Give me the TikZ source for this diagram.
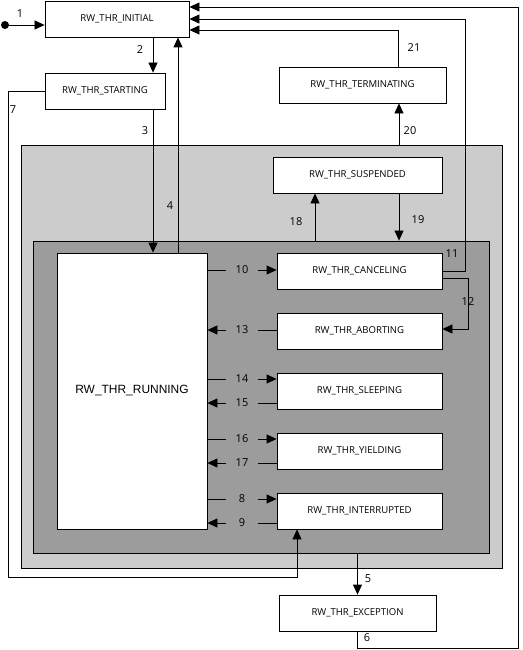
\documentclass[tikz,border=0pt]{standalone}
\usepackage{fontspec}
\setsansfont{Open Sans}
\newfontfamily\runfont{Liberation Sans}
\usetikzlibrary{arrows.meta,calc}
\definecolor{ink}{RGB}{0,0,0}
\definecolor{outerfill}{RGB}{204,204,204}
\definecolor{innerfill}{RGB}{156,156,156}

\begin{document}
\begin{tikzpicture}[x=1bp, y=-1bp,
  font=\sffamily\fontsize{9.6}{11}\selectfont, >={Triangle[length=10bp,width=9bp]},
  state/.style={draw=ink, fill=white, line width=0.8bp, inner sep=0pt, minimum height=36bp},
  region/.style={draw=ink, line width=0.8bp, inner sep=0pt},
  flow/.style={->, line width=0.8bp, draw=ink},
  num/.style={font=\sffamily\fontsize{11}{12}\selectfont, inner sep=1pt},
  gap/.style={num, fill=innerfill, minimum width=32bp},
]
\useasboundingbox (0,0) rectangle (523,650);
\def\xa{153}
\def\xb{178}
\def\xc{399}
% ---------------------------------------------------------------- regions
\node[region, fill=outerfill, minimum width=481bp, minimum height=423bp] (outer) at (261.5,356.5) {};
\node[region, fill=innerfill, minimum width=456bp, minimum height=312bp] (inner) at (261,397) {};

% ---------------------------------------------------------------- nodes
\node[circle, fill=ink, inner sep=0pt, minimum size=8bp] (init) at (5,25) {};
\node[state, minimum width=144bp] (initial) at (117,19) {RW\_THR\_INITIAL};
\node[state, minimum width=120bp] (starting) at (105,91) {RW\_THR\_STARTING};
\node[state, minimum width=167bp] (terminating) at (362.5,85) {RW\_THR\_TERMINATING};
\node[state, minimum width=169bp] (suspended) at (357.5,175) {RW\_THR\_SUSPENDED};

\node[state, minimum width=150bp, minimum height=276bp, font=\runfont\fontsize{12}{14}\selectfont] (running) at (132,391) {RW\_THR\_RUNNING};

\node[state, minimum width=165bp] (canceling) at (359.5,271) {RW\_THR\_CANCELING};
\node[state, minimum width=165bp] (aborting) at (359.5,331) {RW\_THR\_ABORTING};
\node[state, minimum width=165bp] (sleeping) at (359.5,391) {RW\_THR\_SLEEPING};
\node[state, minimum width=165bp] (yielding) at (359.5,451) {RW\_THR\_YIELDING};
\node[state, minimum width=165bp] (interrupted) at (359.5,511) {RW\_THR\_INTERRUPTED};

\node[state, minimum width=157bp] (exception) at (357.5,613) {RW\_THR\_EXCEPTION};

% ---------------------------------------------------------------- edges
\draw[flow] (init) -- (init -| initial.west);
\draw[flow] (initial.south -| \xa,0) -- (starting.north -| \xa,0);
\draw[flow] (starting.south -| \xa,0) -- (running.north -| \xa,0);
\draw[flow] (running.north -| \xb,0) -- (initial.south -| \xb,0);
\draw[flow] (inner.south -| exception) -- (exception.north);
\draw[flow] (exception.south) |- (518,648) |- (initial.east |- 0,7);
\draw[flow] (starting.west) -| (8,577) -| (interrupted.south -| 297,0);

\draw[flow] (running.east |- 0,270) -- node[gap] {10} (canceling.west |- 0,270);
\draw[flow] (canceling.east) -| (465,19) -- (initial.east |- 0,19);
\draw[flow] (canceling.east |- 0,278) -| (468,329) -- (aborting.east |- 0,329);
\draw[flow] (aborting.west |- 0,330) -- node[gap] {13} (running.east |- 0,330);
\draw[flow] (running.east |- 0,379) -- node[gap] {14} (sleeping.west |- 0,379);
\draw[flow] (sleeping.west |- 0,403) -- node[gap] {15} (running.east |- 0,403);
\draw[flow] (running.east |- 0,439) -- node[gap] {16} (yielding.west |- 0,439);
\draw[flow] (yielding.west |- 0,463) -- node[gap] {17} (running.east |- 0,463);
\draw[flow] (running.east |- 0,499) -- node[gap] {8} (interrupted.west |- 0,499);
\draw[flow] (interrupted.west |- 0,523) -- node[gap] {9} (running.east |- 0,523);

\draw[flow] (inner.north -| 315,0) -- (suspended.south -| 315,0);
\draw[flow] (suspended.south -| \xc,0) -- (inner.north -| \xc,0);
\draw[flow] (outer.north -| \xc,0) -- (terminating.south -| \xc,0);
\draw[flow] (terminating.north -| 398,0) |- (initial.east |- 0,30);

% ---------------------------------------------------------------- labels
\node[num] at (20,14) {1};
\node[num] at (140,50) {2};
\node[num] at (145,131) {3};
\node[num] at (170,206) {4};
\node[num] at (368,579) {5};
\node[num] at (367,638) {6};
\node[num] at (13,110) {7};
\node[num] at (452,254) {11};
\node[num] at (468,302) {12};
\node[num] at (296,222) {18};
\node[num] at (418,220) {19};
\node[num] at (410,131) {20};
\node[num] at (414,48) {21};
\end{tikzpicture}
\end{document}
